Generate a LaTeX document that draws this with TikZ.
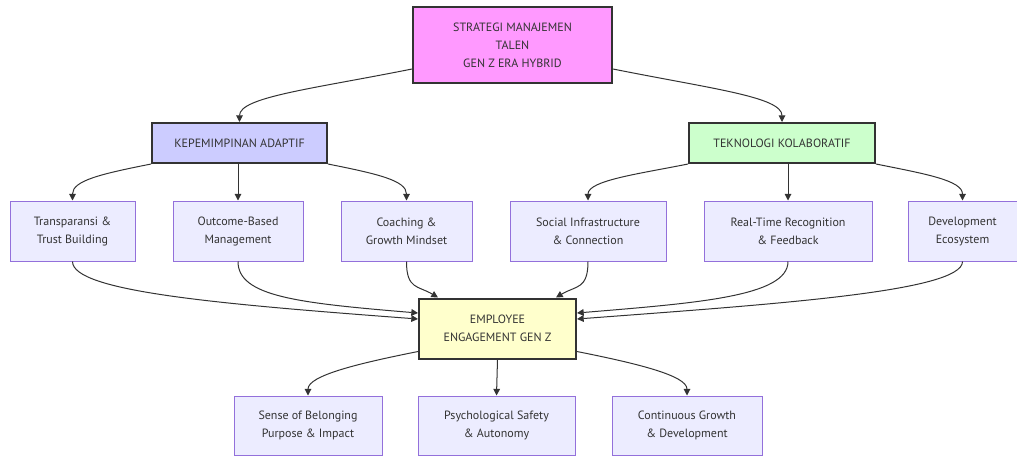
\documentclass[tikz,border=0pt]{standalone}
\usepackage{fontspec}
\setmainfont{PT Sans}
\usetikzlibrary{arrows.meta,calc}

\definecolor{txt}{HTML}{333333}
\definecolor{leaf}{HTML}{ECECFF}
\definecolor{leafline}{HTML}{9370DB}
\definecolor{rootfill}{HTML}{FF99FF}
\definecolor{leadfill}{HTML}{CCCCFF}
\definecolor{techfill}{HTML}{CCFFCC}
\definecolor{engfill}{HTML}{FFFFCC}

\tikzset{
  box/.style={draw=leafline, fill=leaf, line width=.75pt, text=txt, align=center,
    font=\fontsize{9}{13.5}\selectfont, inner sep=0pt, minimum height=45pt},
  hub/.style={box, draw=txt, line width=1.5pt},
  link/.style={draw=txt, line width=.75pt, -{Triangle[length=5pt,width=5pt]}}
}

\begin{document}
\begin{tikzpicture}[x=.75pt,y=-.75pt]

\useasboundingbox (0,0) rectangle (1017,455);

\node[hub,fill=rootfill,minimum width=149.25pt,minimum height=57pt] (strat) at (512.5,45) {STRATEGI MANAJEMEN\\TALEN\\GEN Z ERA HYBRID};

\node[hub,fill=leadfill,minimum width=131.25pt,minimum height=30pt] (kep) at (239.5,143) {KEPEMIMPINAN ADAPTIF};
\node[hub,fill=techfill,minimum width=139.5pt,minimum height=30pt] (tek) at (782,143) {TEKNOLOGI KOLABORATIF};

\node[box,minimum width=93.75pt] (trans) at (72.5,231) {Transparansi \&\\Trust Building};
\node[box,minimum width=97.5pt] (outc) at (238,231) {Outcome-Based\\Management};
\node[box,minimum width=98.25pt] (coach) at (406.5,231) {Coaching \&\\Growth Mindset};
\node[box,minimum width=117pt] (soc) at (588,231) {Social Infrastructure\\\& Connection};
\node[box,minimum width=126pt] (rtr) at (788,231) {Real-Time Recognition\\\& Feedback};
\node[box,minimum width=81.75pt] (dev) at (962.5,231) {Development\\Ecosystem};

\node[hub,fill=engfill,minimum width=117.75pt] (emp) at (497.5,328.5) {EMPLOYEE\\ENGAGEMENT GEN Z};

\node[box,minimum width=111pt,minimum height=44.25pt] (bel) at (308,425.5) {Sense of Belonging\\Purpose \& Impact};
\node[box,minimum width=117.75pt,minimum height=44.25pt] (psy) at (496.5,425.5) {Psychological Safety\\\& Autonomy};
\node[box,minimum width=112.5pt,minimum height=44.25pt] (cont) at (687,425.5) {Continuous Growth\\\& Development};

% top level
\draw[link] ($(strat.south west)+(0,-15)$) .. controls +(-100,20) and +(0,-25) .. (kep.north);
\draw[link] ($(strat.south east)+(0,-15)$) .. controls +(100,20) and +(0,-25) .. (tek.north);

% pillars
\draw[link] (kep.south west) .. controls +(-50,10) and +(0,-20) .. (trans.north);
\draw[link] (outc.north |- kep.south) -- (outc.north);
\draw[link] (kep.south east) .. controls +(50,10) and +(0,-20) .. (coach.north);

\draw[link] (tek.south west) .. controls +(-50,10) and +(0,-20) .. (soc.north);
\draw[link] (rtr.north |- tek.south) -- (rtr.north);
\draw[link] (tek.south east) .. controls +(50,10) and +(0,-20) .. (dev.north);

% into engagement
\draw[link] (trans.south) .. controls +(0,30) and +(-200,-15) .. ($(emp.west)+(0,-9.5)$);
\draw[link] (outc.south) .. controls +(0,35) and +(-120,-10) .. ($(emp.west)+(0,-15.5)$);
\draw[link] (coach.south) .. controls +(0,28) and +(-20,-12) .. ($(emp.north west)+(20,0)$);
\draw[link] (soc.south) .. controls +(0,28) and +(20,-12) .. ($(emp.north east)+(-21,0)$);
\draw[link] (rtr.south) .. controls +(0,35) and +(120,-10) .. ($(emp.east)+(0,-15.5)$);
\draw[link] (dev.south) .. controls +(0,30) and +(200,-15) .. ($(emp.east)+(0,-9.5)$);

% outcomes
\draw[link] ($(emp.south west)+(0,-8)$) .. controls +(-60,12) and +(0,-20) .. (bel.north);
\draw[link] (emp.south) -- (psy.north);
\draw[link] ($(emp.south east)+(0,-8)$) .. controls +(60,12) and +(0,-20) .. (cont.north);

\end{tikzpicture}
\end{document}
